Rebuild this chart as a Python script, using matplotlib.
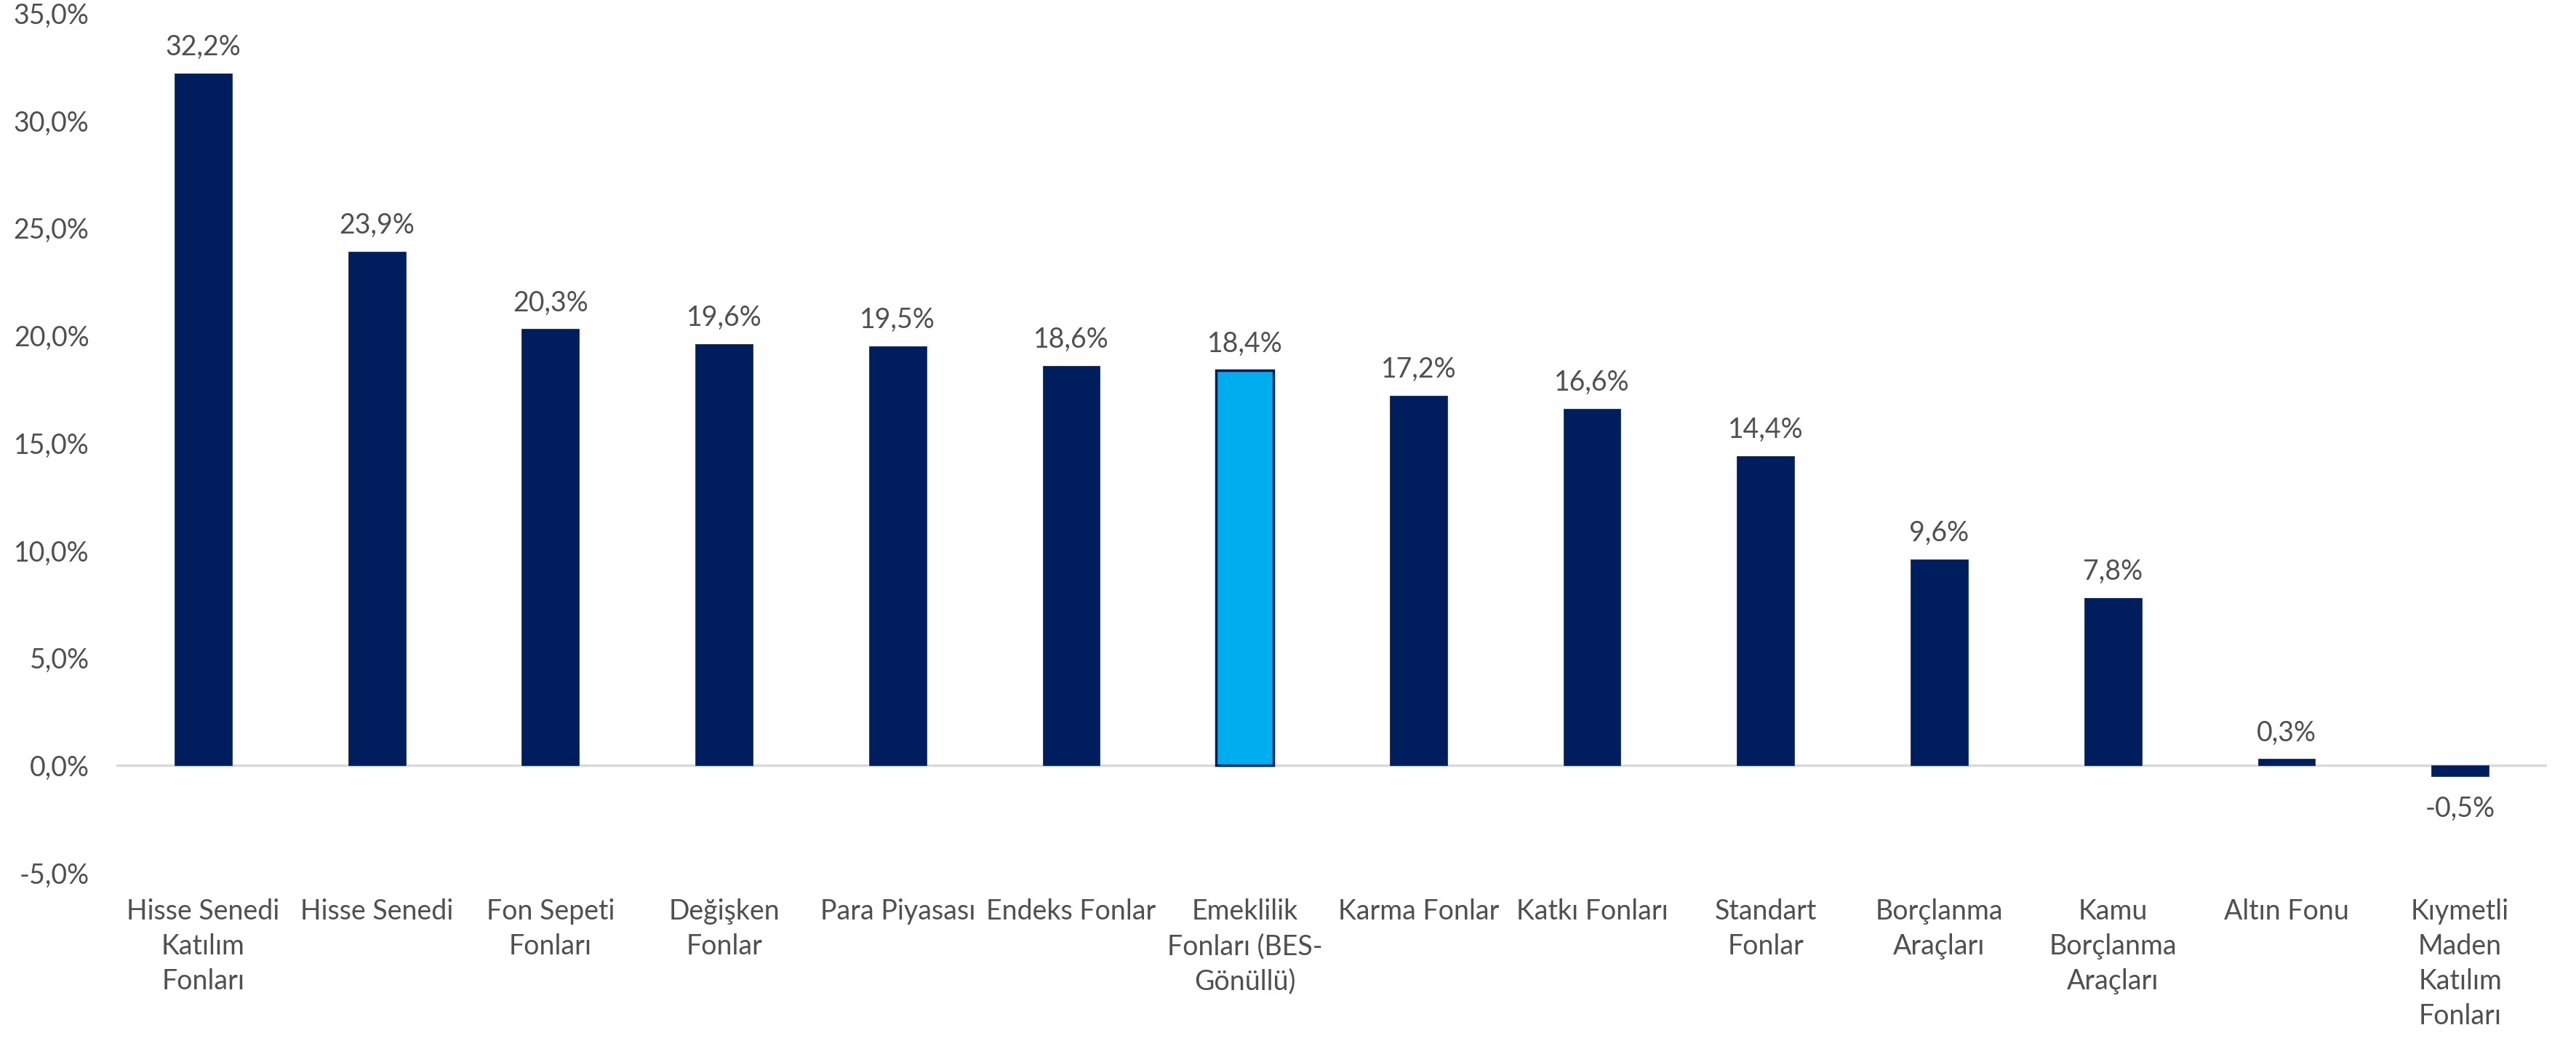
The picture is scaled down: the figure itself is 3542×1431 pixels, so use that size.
import matplotlib.pyplot as plt
import numpy as np

# -------------------------------
categories = [
    "Hisse Senedi\nKatılım\nFonları", "Hisse Senedi", "Fon Sepeti\nFonları",
    "Değişken\nFonlar", "Para Piyasası", "Endeks Fonlar",
    "Emeklilik\nFonları (BES-\nGönüllü)", "Karma Fonlar", "Katkı Fonları",
    "Standart\nFonlar", "Borçlanma\nAraçları", "Kamu\nBorçlanma\nAraçları",
    "Altın Fonu", "Kıymetli\nMaden\nKatılım\nFonları",
]
returns = [32.2, 23.9, 20.3, 19.6, 19.5, 18.6, 18.4, 17.2, 16.6, 14.4, 9.6, 7.8, 0.3, -0.5]
highlight = "Emeklilik\nFonları (BES-\nGönüllü)"
yticks = [-5, 0, 5, 10, 15, 20, 25, 30, 35]
# -------------------------------

navy = "#001E5E"
light = "#00AEEF"
text_col = "#505050"

plt.rcParams['font.family'] = ['Lato', 'DejaVu Sans']

fig = plt.figure(figsize=(35.42, 14.31), dpi=100)
ax = fig.add_axes([0.0452, 0.1614, 0.9435, 0.826])

x = np.arange(len(categories))
colors = [light if c == highlight else navy for c in categories]
lws = [2.5 if c == highlight else 0.5 for c in categories]
ax.bar(x, returns, width=0.33, color=colors, edgecolor=navy, linewidth=lws, zorder=3)

for xi, v in zip(x, returns):
    label = f"{v:.1f}%".replace(".", ",")
    if v >= 0:
        ax.annotate(label, (xi, v), xytext=(0, 13), textcoords="offset points",
                    ha="center", va="bottom", fontsize=27, color=text_col)
    else:
        ax.annotate(label, (xi, v), xytext=(0, -19), textcoords="offset points",
                    ha="center", va="top", fontsize=27, color=text_col)

ax.axhline(0, color="#D9D9D9", linewidth=2.5, zorder=2)

ax.set_xlim(-0.5, len(categories) - 0.5)
ax.set_ylim(-5, 35)
ax.set_yticks(yticks)
ax.set_yticklabels([f"{t:.1f}%".replace(".", ",") for t in yticks], fontsize=27, color=text_col)
ax.set_xticks(x)
ax.set_xticklabels(categories, fontsize=27, color=text_col, linespacing=1.42, va="top")
ax.tick_params(axis="both", length=0)
ax.tick_params(axis="y", pad=27)
ax.tick_params(axis="x", pad=25)
for s in ax.spines.values():
    s.set_visible(False)

fig.savefig("out.png", dpi=100)
